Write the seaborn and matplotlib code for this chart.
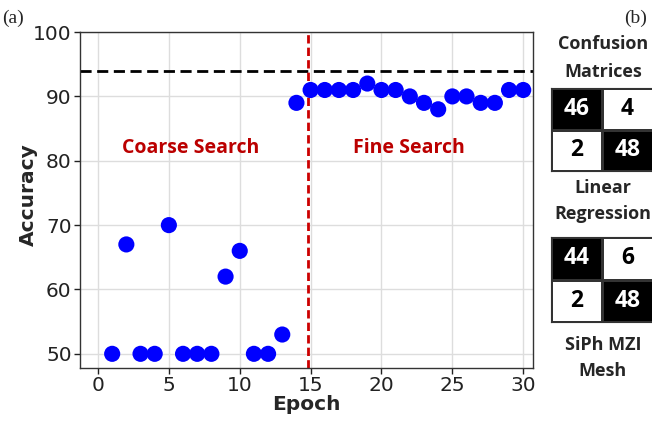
import numpy as np
import pandas as pd
import matplotlib
matplotlib.use("Agg")
import matplotlib.pyplot as plt
import seaborn as sns

epochs = list(range(1, 31))
accuracy = [50, 67, 50, 50, 70, 50, 50, 50, 62, 66, 50, 50, 53, 89,
            91, 91, 91, 91, 92, 91, 91, 90, 89, 88, 90, 90, 89, 89, 91, 91]
baseline = 94
split_epoch = 14.8
cm_linear = [[46, 4], [2, 48]]
cm_mzi = [[44, 6], [2, 48]]
x_ticks = [0, 5, 10, 15, 20, 25, 30]
y_ticks = [50, 60, 70, 80, 90, 100]

sns.set_style("white")
plt.rcParams['font.family'] = ['DejaVu Sans']

fig = plt.figure(figsize=(6.52, 4.22), dpi=100)
ax = fig.add_axes([0.1227, 0.128, 0.695, 0.796])

df = pd.DataFrame({"Epoch": epochs, "Accuracy": accuracy})
sns.scatterplot(data=df, x="Epoch", y="Accuracy", ax=ax, color="#0000ff",
                s=135, edgecolor="none", zorder=3)
ax.axhline(baseline, color="black", ls=(0, (4, 2)), lw=2, zorder=2)
ax.axvline(split_epoch, color="#cc0000", ls=(0, (3, 1.5)), lw=2, zorder=2)

ax.set_xlim(-1.27, 30.7)
ax.set_ylim(47.8, 100)
ax.set_xticks(x_ticks)
ax.set_yticks(y_ticks)
ax.grid(True, color="#dddddd", lw=1)
ax.tick_params(axis="both", labelsize=14.5, length=4, width=1, direction="out",
               bottom=True, left=True, pad=2, colors="#222222")
for s in ax.spines.values():
    s.set_color("#333333")
    s.set_linewidth(1)
ax.set_xlabel("Epoch", fontsize=14.5, fontweight="bold", labelpad=0)
ax.set_ylabel("Accuracy", fontsize=14.5, fontweight="bold")
ax.yaxis.set_label_coords(-0.093, 0.515)

ax.text(6.5, 82, "Coarse Search", color="#bb0000", fontsize=14,
        fontweight="bold", ha="center", va="center", family="Open Sans")
ax.text(21.9, 82, "Fine Search", color="#bb0000", fontsize=14,
        fontweight="bold", ha="center", va="center", family="Open Sans")

fig.text(0.003, 0.978, "(a)", fontsize=14, family="Liberation Serif", va="top")
fig.text(624 / 652, 0.978, "(b)", fontsize=14, family="Liberation Serif", va="top")

# confusion matrices
def draw_cm(mat, rect):
    cax = fig.add_axes(rect)
    arr = np.array(mat)
    mask_col = np.array([[1, 0], [0, 1]])
    sns.heatmap(mask_col, ax=cax, cmap=matplotlib.colors.ListedColormap(["white", "black"]),
                cbar=False, annot=arr, fmt="d", linewidths=1, linecolor="#333333",
                annot_kws={"fontsize": 16.5, "fontweight": "bold", "family": "Open Sans"},
                vmin=0, vmax=1)
    for t, v in zip(cax.texts, mask_col.flatten()):
        t.set_color("white" if v == 1 else "black")
    cax.set_xticks([])
    cax.set_yticks([])
    cax.set_xlabel("")
    cax.set_ylabel("")
    for s in cax.spines.values():
        s.set_visible(True)
        s.set_color("#333333")

W, H = 652, 422
draw_cm(cm_linear, [551 / W, 1 - 171 / H, 102 / W, 83 / H])
draw_cm(cm_mzi, [551 / W, 1 - 322 / H, 102 / W, 85 / H])

kw = dict(fontsize=13, fontweight="bold", ha="center", va="center",
          family="Open Sans")
labels = [("Confusion", 44), ("Matrices", 72), ("Linear", 188), ("Regression", 214),
          ("SiPh MZI", 345), ("Mesh", 371)]
for txt, yy in labels:
    fig.text(603 / W, 1 - yy / H, txt, **kw)

fig.savefig("out.png", dpi=100)
